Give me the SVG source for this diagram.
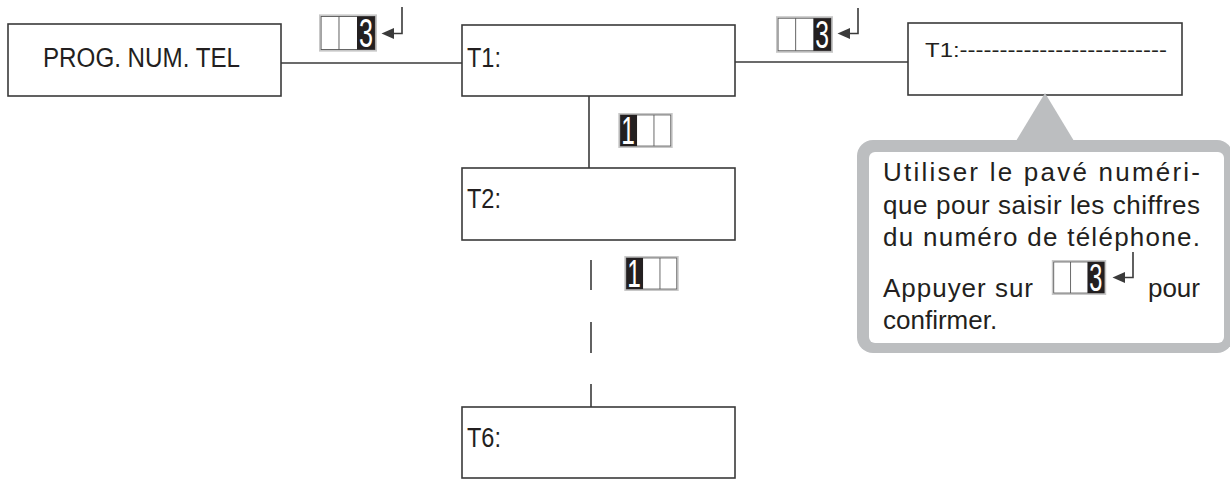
<svg xmlns="http://www.w3.org/2000/svg" xmlns:xlink="http://www.w3.org/1999/xlink" width="1230" height="480" viewBox="0 0 1230 480">
  <style>
    .box { fill: #ffffff; stroke: #3a3a3a; stroke-width: 1.6; }
    .lbl { font-family: "Liberation Sans", Arial, sans-serif; fill: #231f20; }
    .conn { stroke: #3a3a3a; stroke-width: 1.6; fill: none; }
    .enter { stroke: #3a3a3a; stroke-width: 1.6; fill: none; }
    .head { fill: #3a3a3a; }
    .call { font-family: "Liberation Sans", Arial, sans-serif; font-size: 26px; fill: #231f20; }
  </style>
  <defs>
    <symbol id="key3" viewBox="0 0 56 36">
      <rect x="0.75" y="0.75" width="54.5" height="34.5" fill="#ffffff" stroke="#c8c8c8" stroke-width="1.5"/>
      <rect x="2" y="2" width="52" height="32" fill="none" stroke="#555555" stroke-width="0.9"/>
      <line x1="19.3" y1="2" x2="19.3" y2="34" stroke="#555555" stroke-width="0.9"/>
      <rect x="36.7" y="2" width="17.3" height="32" fill="#231f20"/>
      <text x="38.6" y="31.5" font-family="'Liberation Sans', Arial, sans-serif" font-size="39" fill="#ffffff" textLength="13.5" lengthAdjust="spacingAndGlyphs">3</text>
    </symbol>
    <symbol id="key1" viewBox="0 0 56 36">
      <rect x="0.75" y="0.75" width="54.5" height="34.5" fill="#ffffff" stroke="#c8c8c8" stroke-width="1.5"/>
      <rect x="2" y="2" width="52" height="32" fill="none" stroke="#555555" stroke-width="0.9"/>
      <line x1="36.7" y1="2" x2="36.7" y2="34" stroke="#555555" stroke-width="0.9"/>
      <rect x="2" y="2" width="17.3" height="32" fill="#231f20"/>
      <text x="3" y="31.5" font-family="'Liberation Sans', Arial, sans-serif" font-size="39" fill="#ffffff" textLength="14" lengthAdjust="spacingAndGlyphs">1</text>
    </symbol>
  </defs>

  <rect width="1230" height="480" fill="#ffffff"/>

  <g id="connectors">
    <line class="conn" x1="281" y1="63" x2="462" y2="63"/>
    <line class="conn" x1="735" y1="62" x2="908" y2="62"/>
    <line class="conn" x1="589" y1="96" x2="589" y2="168"/>
    <line class="conn" x1="591" y1="260" x2="591" y2="290"/>
    <line class="conn" x1="591" y1="322" x2="591" y2="353"/>
    <line class="conn" x1="591" y1="384" x2="591" y2="407"/>
  </g>

  <g id="connector-labels">
    <g id="key-prog-t1">
      <use xlink:href="#key3" href="#key3" x="319" y="14" width="58" height="38" preserveAspectRatio="none"/>
      <path class="enter" d="M402,7 V33.5 H392"/>
      <polygon class="head" points="381.5,33.5 394,28 394,39"/>
    </g>
    <g id="key-t1-edit">
      <use xlink:href="#key3" href="#key3" x="776" y="16" width="57" height="37" preserveAspectRatio="none"/>
      <path class="enter" d="M858,8 V33.5 H848"/>
      <polygon class="head" points="837.5,33.5 850,28 850,39"/>
    </g>
    <use id="key-t1-t2" xlink:href="#key1" href="#key1" x="618" y="113" width="55" height="35" preserveAspectRatio="none"/>
    <use id="key-t2-t6" xlink:href="#key1" href="#key1" x="624" y="256" width="55" height="35" preserveAspectRatio="none"/>
  </g>

  <g id="node-prog">
    <rect class="box" x="8" y="24" width="273" height="72"/>
    <text class="lbl" x="43" y="67" font-size="27" textLength="197" lengthAdjust="spacingAndGlyphs">PROG. NUM. TEL</text>
  </g>

  <g id="node-t1">
    <rect class="box" x="462" y="25" width="273" height="71"/>
    <text class="lbl" x="467" y="67" font-size="28" textLength="34" lengthAdjust="spacingAndGlyphs">T1:</text>
  </g>

  <g id="node-t2">
    <rect class="box" x="462" y="168" width="273" height="72"/>
    <text class="lbl" x="467" y="208" font-size="28" textLength="34" lengthAdjust="spacingAndGlyphs">T2:</text>
  </g>

  <g id="node-t6">
    <rect class="box" x="462" y="407" width="273" height="71"/>
    <text class="lbl" x="467" y="447" font-size="28" textLength="34" lengthAdjust="spacingAndGlyphs">T6:</text>
  </g>

  <g id="node-t1-edit">
    <rect class="box" x="908" y="23" width="274" height="72"/>
    <text class="lbl" x="925" y="57" font-size="20" textLength="242" lengthAdjust="spacingAndGlyphs">T1:--------------------------</text>
  </g>

  <g id="callout">
    <polygon points="1045,93 1016,141 1074,141" fill="#bcbec0"/>
    <rect x="857" y="140" width="376" height="213" rx="16" ry="16" fill="#bcbec0"/>
    <rect x="869" y="152" width="355" height="191" rx="6" ry="6" fill="#ffffff"/>
    <text class="call" x="883" y="181" textLength="317" lengthAdjust="spacing">Utiliser le pavé numéri-</text>
    <text class="call" x="883" y="213.5" textLength="317" lengthAdjust="spacing">que pour saisir les chiffres</text>
    <text class="call" x="883" y="246" textLength="317" lengthAdjust="spacing">du numéro de téléphone.</text>
    <text class="call" x="883" y="297" textLength="150" lengthAdjust="spacing">Appuyer sur</text>
    <use xlink:href="#key3" href="#key3" x="1051" y="260" width="56" height="35" preserveAspectRatio="none"/>
    <path class="enter" d="M1133,252 V277.5 H1123"/>
    <polygon class="head" points="1112.5,277.5 1125,272 1125,283"/>
    <text class="call" x="1200" y="297" text-anchor="end">pour</text>
    <text class="call" x="883" y="329">confirmer.</text>
  </g>
</svg>
